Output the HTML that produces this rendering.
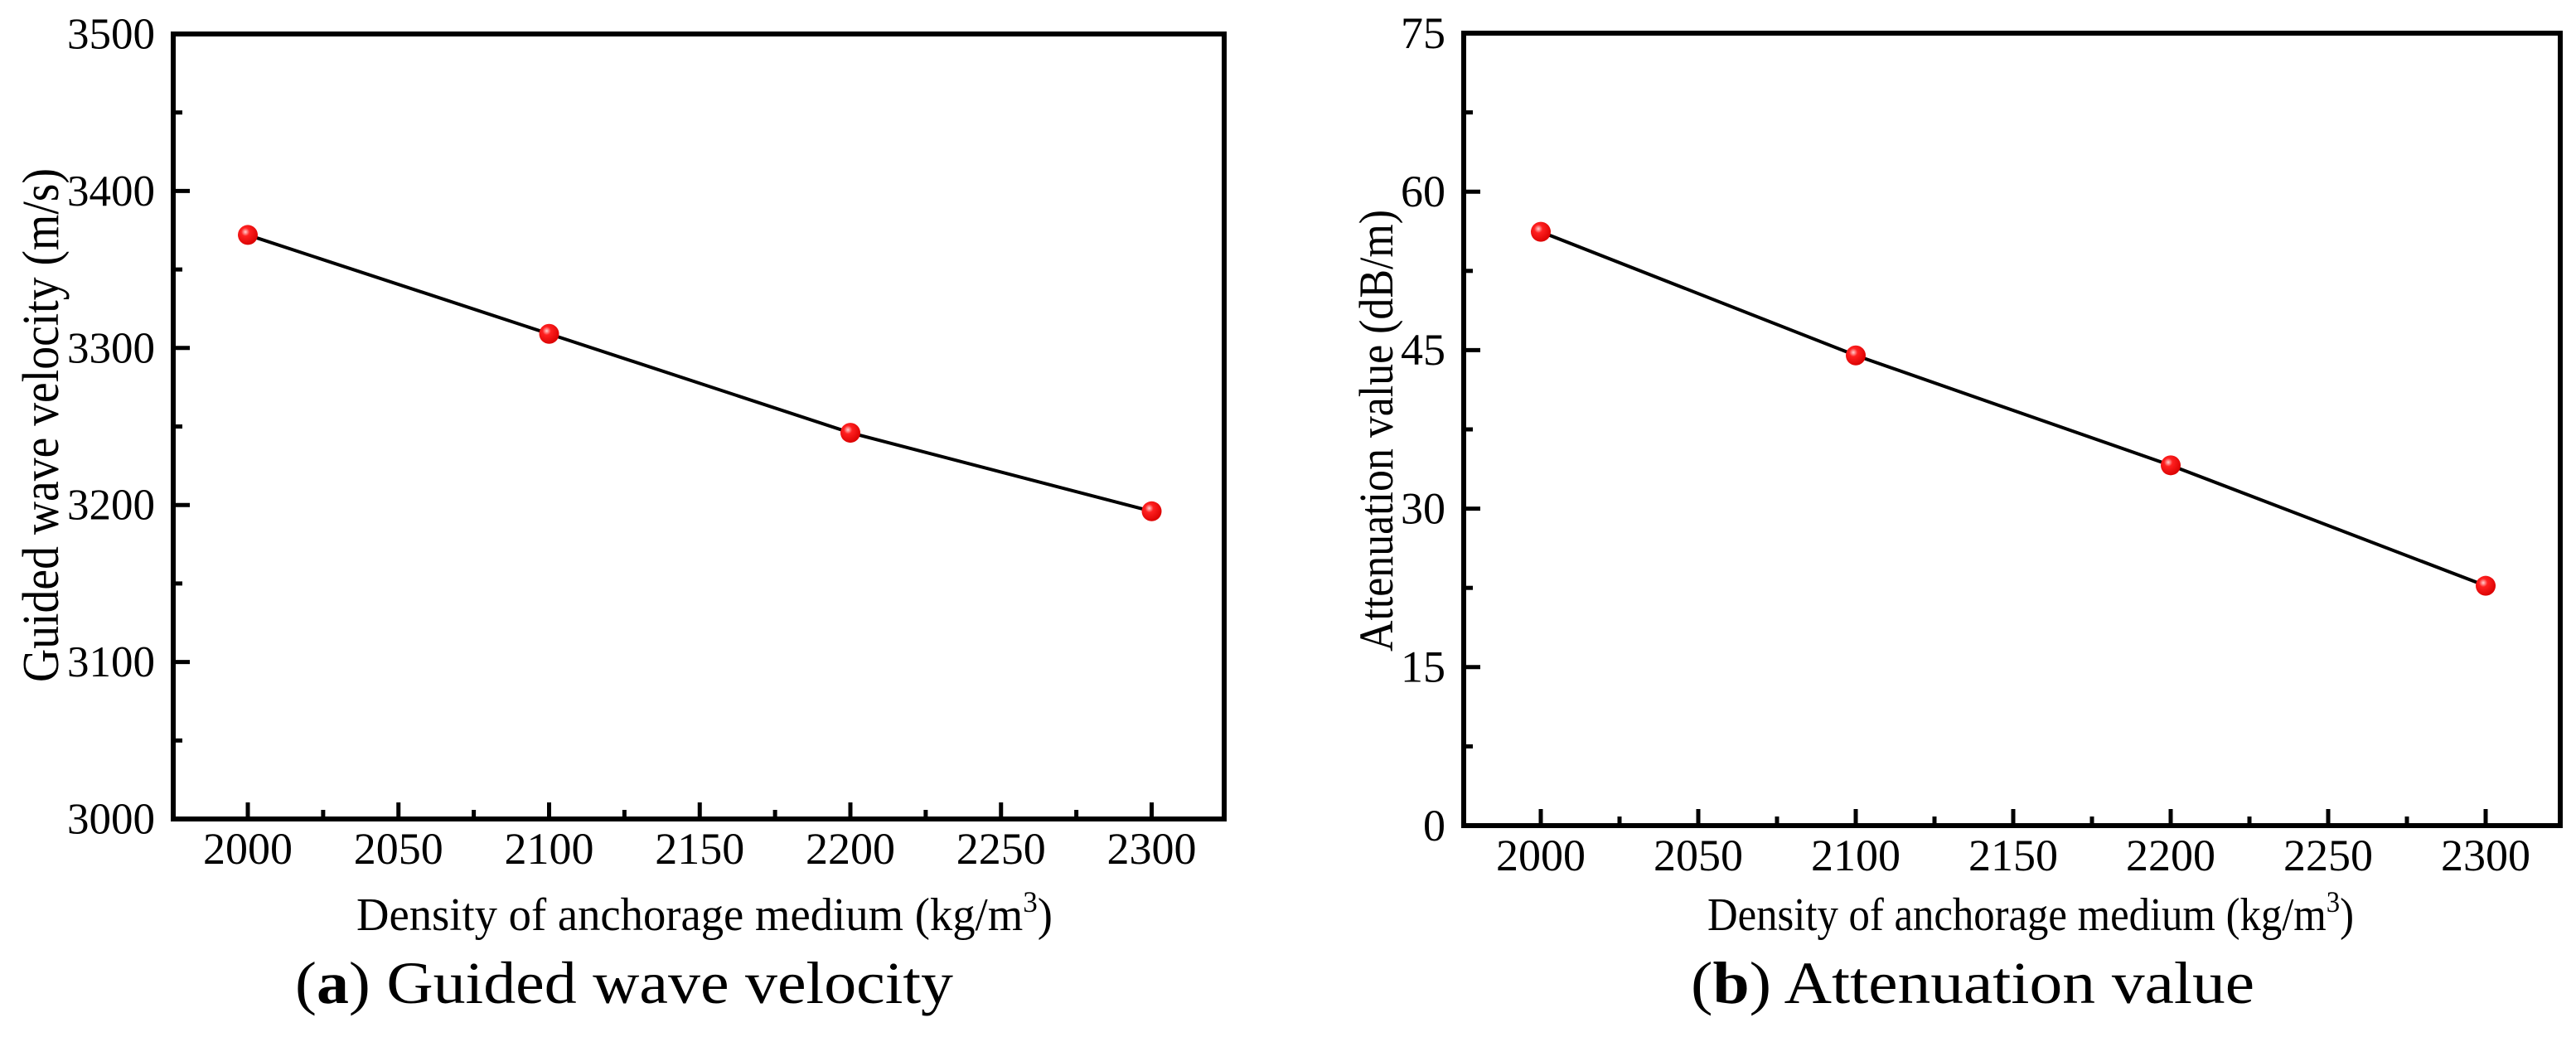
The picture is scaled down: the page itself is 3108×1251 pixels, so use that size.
<!DOCTYPE html>
<html><head><meta charset="utf-8"><style>
html,body{margin:0;padding:0;background:#fff;}
svg{display:block;font-family:"Liberation Serif",serif;}
</style></head><body>
<svg id="fig" width="3108" height="1251" viewBox="0 0 3108 1251" xmlns="http://www.w3.org/2000/svg">
<defs>
<radialGradient id="ball" cx="0.38" cy="0.35" r="0.7">
<stop offset="0" stop-color="#ffd0d0"/><stop offset="0.3" stop-color="#ff2020"/><stop offset="1" stop-color="#d80000"/>
</radialGradient>
</defs>
<g id="chartA"></g>
<g id="chartB"></g>
<text x="430" y="1122" font-size="56" textLength="840" lengthAdjust="spacingAndGlyphs">Density of anchorage medium (kg/m<tspan font-size="36" dy="-22">3</tspan><tspan dy="22">)</tspan></text>
<text x="2060" y="1122" font-size="56" textLength="780" lengthAdjust="spacingAndGlyphs">Density of anchorage medium (kg/m<tspan font-size="36" dy="-22">3</tspan><tspan dy="22">)</tspan></text>
<text x="356" y="1210" font-size="72" textLength="794" lengthAdjust="spacingAndGlyphs">(<tspan font-weight="bold">a</tspan>) Guided wave velocity</text>
<text x="2040" y="1210" font-size="72" textLength="680" lengthAdjust="spacingAndGlyphs">(<tspan font-weight="bold">b</tspan>) Attenuation value</text>
<text transform="translate(70,823) rotate(-90)" font-size="62" textLength="620" lengthAdjust="spacingAndGlyphs">Guided wave velocity (m/s)</text>
<text transform="translate(1680,786) rotate(-90)" font-size="58" textLength="533" lengthAdjust="spacingAndGlyphs">Attenuation value  (dB/m)</text>
</svg>
<script>
const densities = [2000, 2100, 2200, 2300];
const velocityValues = [3372, 3309, 3246, 3196];
const attenuationValues = [56.2, 44.5, 34.1, 22.7];
const xTickLabels = ["2000", "2050", "2100", "2150", "2200", "2250", "2300"];
const velocityTickLabels = ["3000", "3100", "3200", "3300", "3400", "3500"];
const attenuationTickLabels = ["0", "15", "30", "45", "60", "75"];

const NS = "http://www.w3.org/2000/svg";
function mk(tag, attrs, parent) {
  const e = document.createElementNS(NS, tag);
  for (const k in attrs) e.setAttribute(k, attrs[k]);
  parent.appendChild(e);
  return e;
}
function draw(g, cfg) {
  const xs = v => cfg.x0 + (v - 2000) * cfg.xper;
  const ys = v => cfg.bottom - (v - cfg.ymin) / (cfg.ymax - cfg.ymin) * (cfg.bottom - cfg.top);
  const box = mk("rect", {x: cfg.left, y: cfg.top, width: cfg.right - cfg.left, height: cfg.bottom - cfg.top, fill: "none", stroke: "#000", "stroke-width": 6}, g);
  
  
  xTickLabels.forEach((lab, i) => {
    const v = +lab;
    const x = xs(v);
    const t = mk("line", {x1: x, x2: x, y1: cfg.bottom, y2: cfg.bottom - 20, stroke: "#000", "stroke-width": 5}, g);
    
    
    if (v + 25 <= 2300) {
      const m = mk("line", {x1: xs(v + 25), x2: xs(v + 25), y1: cfg.bottom, y2: cfg.bottom - 11, stroke: "#000", "stroke-width": 5}, g);
      
      
    }
    const tx = mk("text", {x: x, y: cfg.bottom + 54, "font-size": 54, "text-anchor": "middle"}, g);
    tx.textContent = lab;
    
    
  });
  const step = (cfg.ymax - cfg.ymin) / (cfg.ylabels.length - 1);
  cfg.ylabels.forEach((lab, i) => {
    const v = +lab;
    const y = ys(v);
    const t = mk("line", {x1: cfg.left, x2: cfg.left + 20, y1: y, y2: y, stroke: "#000", "stroke-width": 5}, g);
    
    
    if (i < cfg.ylabels.length - 1) {
      const ym = ys(v + step / 2);
      const m = mk("line", {x1: cfg.left, x2: cfg.left + 11, y1: ym, y2: ym, stroke: "#000", "stroke-width": 5}, g);
      
      
    }
    const tx = mk("text", {x: cfg.left - 22, y: y + cfg.yfs * 0.33, "font-size": cfg.yfs, "text-anchor": "end"}, g);
    tx.textContent = lab;
    
    
  });
  const pts = densities.map((d, i) => xs(d) + "," + ys(cfg.values[i])).join(" ");
  const line = mk("polyline", {points: pts, fill: "none", stroke: "#000", "stroke-width": 4}, g);
  
  
  densities.forEach((d, i) => {
    const c = mk("circle", {cx: xs(d), cy: ys(cfg.values[i]), r: 12, fill: "url(#ball)"}, g);
    
    
  });
}
draw(document.getElementById("chartA"), {left: 209, right: 1477, top: 41, bottom: 988, x0: 299, xper: 3.635, ymin: 3000, ymax: 3500, values: velocityValues, ylabels: velocityTickLabels, yfs: 53});
draw(document.getElementById("chartB"), {left: 1766, right: 3089, top: 40, bottom: 996, x0: 1859, xper: 3.80, ymin: 0, ymax: 75, values: attenuationValues, ylabels: attenuationTickLabels, yfs: 54});
</script>
</body></html>
